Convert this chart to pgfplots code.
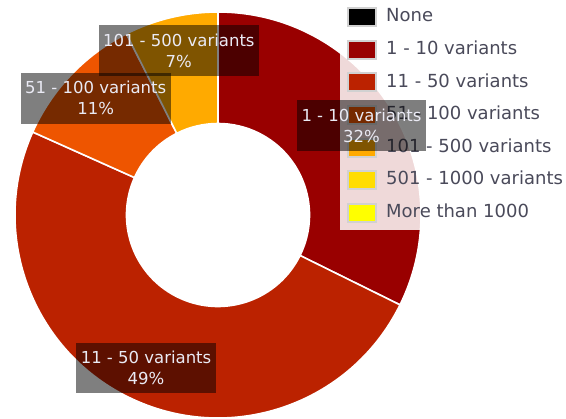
\documentclass[border=0pt]{standalone}
\usepackage{pgfplots}
\pgfplotsset{compat=1.18}
\usepackage{pgfplotstable}
\usetikzlibrary{calc}
\usepackage{fontspec}
\setmainfont{DejaVu Sans}

\definecolor{cnone}{HTML}{000000}
\definecolor{cA}{HTML}{990000}
\definecolor{cB}{HTML}{BB2200}
\definecolor{cC}{HTML}{EE5500}
\definecolor{cD}{HTML}{FFAA00}
\definecolor{cE}{HTML}{FFDD00}
\definecolor{cF}{HTML}{FFFF00}
\definecolor{legtext}{HTML}{4A4A5A}
\definecolor{labtext}{HTML}{EAEAF4}

% share of each class, in percent
\pgfplotstableread[col sep=comma]{
name,pct,col
None,0,cnone
1 - 10 variants,32.3,cA
11 - 50 variants,49.4,cB
51 - 100 variants,10.85,cC
101 - 500 variants,7.45,cD
501 - 1000 variants,0,cE
More than 1000,0,cF
}\piedata

\newcommand\Ro{203}
\newcommand\Ri{91.5}
\newcommand\Rl{169}

% start / end / mid angles, clockwise from the top
\gdef\cum{0}
\foreach \i in {0,...,6}{%
  \pgfplotstablegetelem{\i}{pct}\of\piedata \let\p\pgfplotsretval
  \pgfmathsetmacro\a{90-3.6*\cum}%
  \pgfmathsetmacro\c{\cum+\p}%
  \pgfmathsetmacro\b{90-3.6*\c}%
  \pgfmathsetmacro\m{(\a+\b)/2}%
  \pgfmathtruncatemacro\r{round(\p)}%
  \expandafter\xdef\csname sp\i\endcsname{\p}%
  \expandafter\xdef\csname sa\i\endcsname{\a}%
  \expandafter\xdef\csname sb\i\endcsname{\b}%
  \expandafter\xdef\csname sm\i\endcsname{\m}%
  \expandafter\xdef\csname sr\i\endcsname{\r}%
  \pgfplotstablegetelem{\i}{col}\of\piedata
  \expandafter\xdef\csname sc\i\endcsname{\pgfplotsretval}%
  \pgfplotstablegetelem{\i}{name}\of\piedata
  \expandafter\xdef\csname sn\i\endcsname{\pgfplotsretval}%
  \xdef\cum{\c}%
}

\newcommand\slice[1]{%
  \ifdim\csname sp#1\endcsname pt>0pt
  \edef\temp{\noexpand\fill[fill=\csname sc#1\endcsname, draw=white, line width=1.6pt]
    (218,204) ++(\csname sa#1\endcsname:\Ro pt)
    arc[start angle=\csname sa#1\endcsname, end angle=\csname sb#1\endcsname, radius=\Ro pt]
    -- ++(\csname sb#1\endcsname:-\Ro pt+\Ri pt)
    arc[start angle=\csname sb#1\endcsname, end angle=\csname sa#1\endcsname, radius=\Ri pt]
    -- cycle;}%
  \temp
  \fi
}

\begin{document}
\begin{tikzpicture}
\begin{axis}[
  x=1pt, y=1pt,
  xmin=0, xmax=566, ymin=0, ymax=419,
  hide axis, clip=false,
  legend cell align=left,
  legend style={at={(rel axis cs:0.6007,1)}, anchor=north west,
    draw=none, fill=white, fill opacity=0.85, text opacity=1,
    text=legtext, font=\fontsize{18}{22}\selectfont,
    inner xsep=7pt, inner ysep=7pt, row sep=12.6pt,
    nodes={inner ysep=0pt, inner xsep=0pt, text height=13.5pt, text depth=4pt}},
  legend image code/.code={%
    \path[draw=none, fill=none] (0pt,0pt) -- (39pt,0pt);
    \draw[#1, fill opacity=1, draw=black!18, line width=2pt] (1pt,-9pt) rectangle (29pt,9pt);},
]
\coordinate (ctr) at (218,204);
\coordinate (bl) at (0,0);
\coordinate (tr) at (566,419);
\pgfplotsinvokeforeach{0,...,6}{\slice{#1}}
\addlegendimage{fill=cnone}\addlegendentry{None}
\addlegendimage{fill=cA}\addlegendentry{1 - 10 variants}
\addlegendimage{fill=cB}\addlegendentry{11 - 50 variants}
\addlegendimage{fill=cC}\addlegendentry{51 - 100 variants}
\addlegendimage{fill=cD}\addlegendentry{101 - 500 variants}
\addlegendimage{fill=cE}\addlegendentry{501 - 1000 variants}
\addlegendimage{fill=cF}\addlegendentry{More than 1000}
\end{axis}
\foreach \i in {0,...,6}{%
  \ifdim\csname sp\i\endcsname pt>0pt
  \node[fill=black, fill opacity=0.5, text opacity=1, text=labtext,
        align=center, font=\fontsize{16.5}{21}\selectfont,
        inner xsep=4.5pt, inner ysep=8.5pt]
    at ($(ctr)+(\csname sm\i\endcsname:\Rl pt)$)
    {\csname sn\i\endcsname\\\csname sr\i\endcsname\%};
  \fi
}
\pgfresetboundingbox
\useasboundingbox (bl) rectangle (tr);
\end{tikzpicture}
\end{document}
